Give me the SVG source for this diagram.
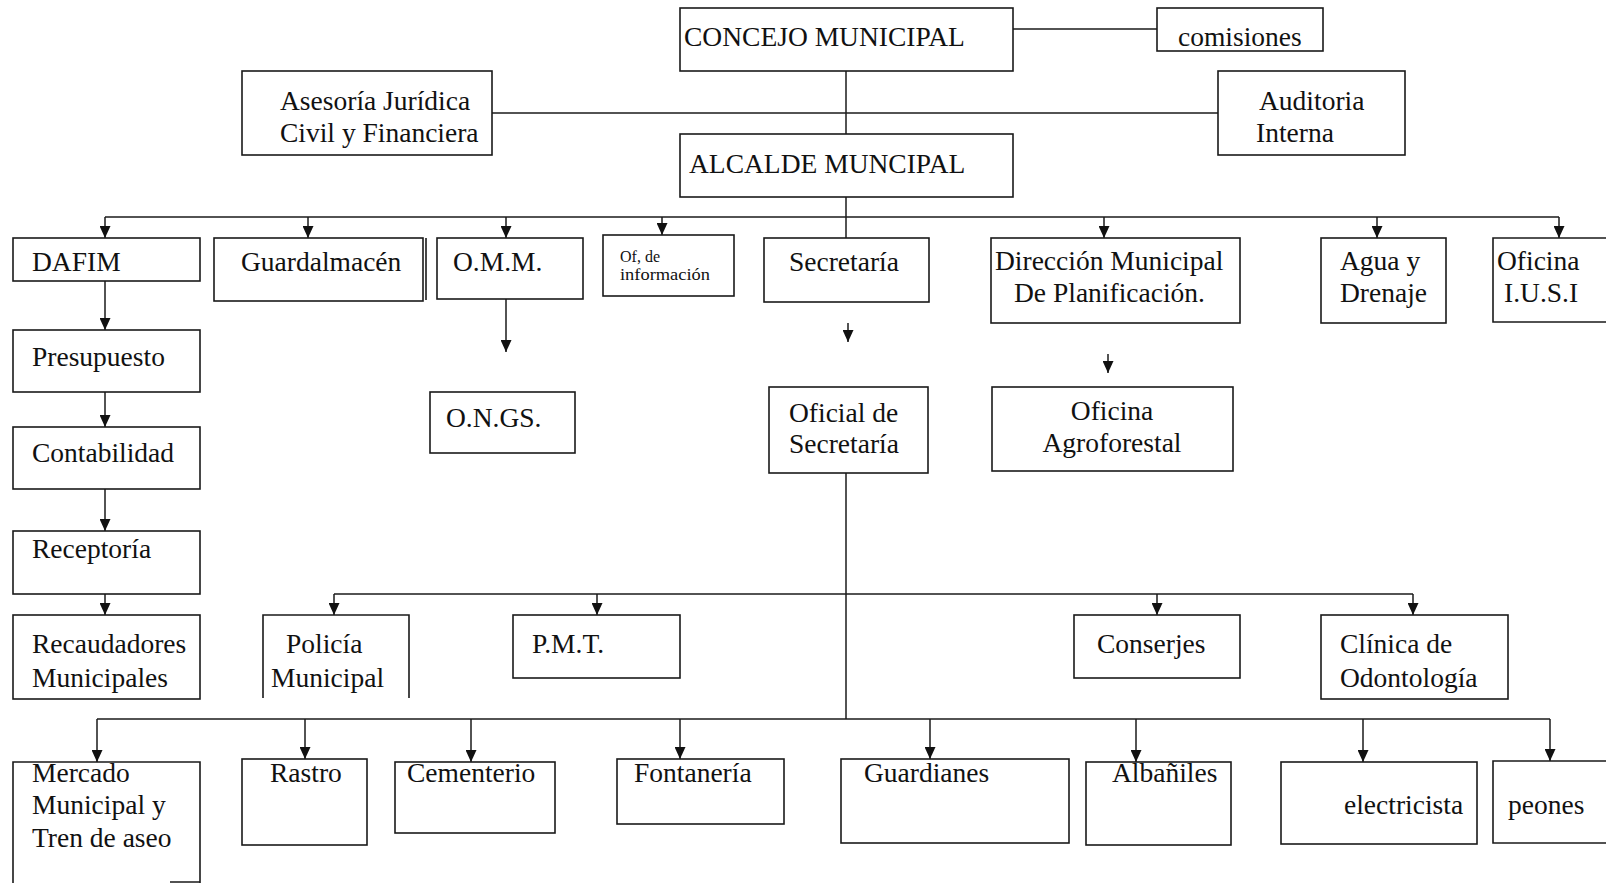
<svg xmlns="http://www.w3.org/2000/svg" width="1606" height="883" viewBox="0 0 1606 883">
<style>
.b{fill:none;stroke:#1a1a1a;stroke-width:1.6}
.c{fill:none;stroke:#1a1a1a;stroke-width:1.5}
.a{marker-end:url(#ah)}
text{font-family:"Liberation Serif","Times New Roman",serif;font-size:27.5px;fill:#111}
.s{font-size:16px}
</style>
<defs>
<marker id="ah" markerUnits="userSpaceOnUse" markerWidth="12" markerHeight="11" viewBox="0 0 12 11" refX="12" refY="5.5" orient="auto">
<path d="M0,0 L12,5.5 L0,11 z" fill="#111"/>
</marker>
</defs>
<rect width="1606" height="883" fill="#fff"/>
<g id="connectors">
<line class="c" x1="1013" y1="29" x2="1157" y2="29"/>
<line class="c" x1="492" y1="113" x2="1218" y2="113"/>
<line class="c" x1="846" y1="71" x2="846" y2="134"/>
<line class="c" x1="846" y1="197" x2="846" y2="238"/>
<line class="c" x1="105" y1="217" x2="1559" y2="217"/>
<line class="c a" x1="105" y1="217" x2="105" y2="238"/>
<line class="c a" x1="308" y1="217" x2="308" y2="238"/>
<line class="c a" x1="506" y1="217" x2="506" y2="238"/>
<line class="c a" x1="662" y1="217" x2="662" y2="235"/>
<line class="c a" x1="1104" y1="217" x2="1104" y2="238"/>
<line class="c a" x1="1377" y1="217" x2="1377" y2="238"/>
<line class="c a" x1="1559" y1="217" x2="1559" y2="238"/>
<line class="c a" x1="105" y1="281" x2="105" y2="330"/>
<line class="c a" x1="105" y1="392" x2="105" y2="427"/>
<line class="c a" x1="105" y1="489" x2="105" y2="531"/>
<line class="c a" x1="105" y1="594" x2="105" y2="615"/>
<line class="c a" x1="506" y1="299" x2="506" y2="352"/>
<line class="c a" x1="848" y1="323" x2="848" y2="342"/>
<line class="c a" x1="1108" y1="354" x2="1108" y2="373"/>
<line class="c" x1="846" y1="473" x2="846" y2="719"/>
<line class="c" x1="334" y1="594" x2="1413" y2="594"/>
<line class="c a" x1="334" y1="594" x2="334" y2="615"/>
<line class="c a" x1="597" y1="594" x2="597" y2="615"/>
<line class="c a" x1="1157" y1="594" x2="1157" y2="615"/>
<line class="c a" x1="1413" y1="594" x2="1413" y2="615"/>
<line class="c" x1="97" y1="719" x2="1550" y2="719"/>
<line class="c a" x1="97" y1="719" x2="97" y2="762"/>
<line class="c a" x1="305" y1="719" x2="305" y2="759"/>
<line class="c a" x1="471" y1="719" x2="471" y2="762"/>
<line class="c a" x1="680" y1="719" x2="680" y2="759"/>
<line class="c a" x1="930" y1="719" x2="930" y2="759"/>
<line class="c a" x1="1136" y1="719" x2="1136" y2="762"/>
<line class="c a" x1="1363" y1="719" x2="1363" y2="762"/>
<line class="c a" x1="1550" y1="719" x2="1550" y2="761"/>
</g>
<g id="concejo"><rect class="b" x="680" y="8" width="333" height="63"/><text x="684" y="46">CONCEJO MUNICIPAL</text></g>
<g id="comisiones"><rect class="b" x="1157" y="8" width="166" height="43"/><text x="1178" y="46">comisiones</text></g>
<g id="asesoria"><rect class="b" x="242" y="71" width="250" height="84"/><text x="280" y="110">Asesoría Jurídica</text><text x="280" y="142">Civil y Financiera</text></g>
<g id="auditoria"><rect class="b" x="1218" y="71" width="187" height="84"/><text x="1259" y="110">Auditoria</text><text x="1256" y="142">Interna</text></g>
<g id="alcalde"><rect class="b" x="680" y="134" width="333" height="63"/><text x="689" y="173">ALCALDE MUNCIPAL</text></g>
<g id="dafim"><rect class="b" x="13" y="238" width="187" height="43"/><text x="32" y="271">DAFIM</text></g>
<g id="guardalmacen"><rect class="b" x="214" y="238" width="209" height="63"/><line class="b" x1="426" y1="238" x2="426" y2="300"/><text x="241" y="271">Guardalmacén</text></g>
<g id="omm"><rect class="b" x="437" y="238" width="146" height="61"/><text x="453" y="271">O.M.M.</text></g>
<g id="ofinfo"><rect class="b" x="603" y="235" width="131" height="61"/><text class="s" x="620" y="262">Of, de</text><text class="s" x="620" y="280" textLength="90" lengthAdjust="spacingAndGlyphs">información</text></g>
<g id="secretaria"><rect class="b" x="764" y="238" width="165" height="64"/><text x="789" y="271">Secretaría</text></g>
<g id="dmp"><rect class="b" x="991" y="238" width="249" height="85"/><text x="995" y="270">Dirección Municipal</text><text x="1014" y="302">De Planificación.</text></g>
<g id="agua"><rect class="b" x="1321" y="238" width="125" height="85"/><text x="1340" y="270">Agua y</text><text x="1340" y="302">Drenaje</text></g>
<g id="iusi"><path class="b" d="M1606,238 H1493 V322 H1606"/><text x="1497" y="270">Oficina</text><text x="1504" y="302">I.U.S.I</text></g>
<g id="presupuesto"><rect class="b" x="13" y="330" width="187" height="62"/><text x="32" y="366">Presupuesto</text></g>
<g id="contabilidad"><rect class="b" x="13" y="427" width="187" height="62"/><text x="32" y="462">Contabilidad</text></g>
<g id="receptoria"><rect class="b" x="13" y="531" width="187" height="63"/><text x="32" y="558">Receptoría</text></g>
<g id="recaudadores"><rect class="b" x="13" y="615" width="187" height="84"/><text x="32" y="653">Recaudadores</text><text x="32" y="687">Municipales</text></g>
<g id="ongs"><rect class="b" x="430" y="392" width="145" height="61"/><text x="446" y="427">O.N.GS.</text></g>
<g id="oficial"><rect class="b" x="769" y="387" width="159" height="86"/><text x="789" y="422">Oficial de</text><text x="789" y="453">Secretaría</text></g>
<g id="agroforestal"><rect class="b" x="992" y="387" width="241" height="84"/><text x="1112" y="420" text-anchor="middle">Oficina</text><text x="1112" y="452" text-anchor="middle">Agroforestal</text></g>
<g id="policia"><path class="b" d="M263,698 V615 H409 V698"/><text x="286" y="653">Policía</text><text x="271" y="687">Municipal</text></g>
<g id="pmt"><rect class="b" x="513" y="615" width="167" height="63"/><text x="532" y="653">P.M.T.</text></g>
<g id="conserjes"><rect class="b" x="1074" y="615" width="166" height="63"/><text x="1097" y="653">Conserjes</text></g>
<g id="clinica"><rect class="b" x="1321" y="615" width="187" height="84"/><text x="1340" y="653">Clínica de</text><text x="1340" y="687">Odontología</text></g>
<g id="mercado"><path class="b" d="M13,883 V762 H200 V883 M170,882 H200"/><text x="32" y="782">Mercado</text><text x="32" y="814">Municipal y</text><text x="32" y="847">Tren de aseo</text></g>
<g id="rastro"><rect class="b" x="242" y="759" width="125" height="86"/><text x="270" y="782">Rastro</text></g>
<g id="cementerio"><rect class="b" x="395" y="762" width="160" height="71"/><text x="407" y="782">Cementerio</text></g>
<g id="fontaneria"><rect class="b" x="617" y="759" width="167" height="65"/><text x="634" y="782">Fontanería</text></g>
<g id="guardianes"><rect class="b" x="841" y="759" width="228" height="84"/><text x="864" y="782">Guardianes</text></g>
<g id="albaniles"><rect class="b" x="1086" y="762" width="145" height="83"/><text x="1112" y="782">Albañiles</text></g>
<g id="electricista"><rect class="b" x="1281" y="762" width="196" height="82"/><text x="1344" y="814">electricista</text></g>
<g id="peones"><path class="b" d="M1606,761 H1493 V843 H1606"/><text x="1508" y="814">peones</text></g>
</svg>
